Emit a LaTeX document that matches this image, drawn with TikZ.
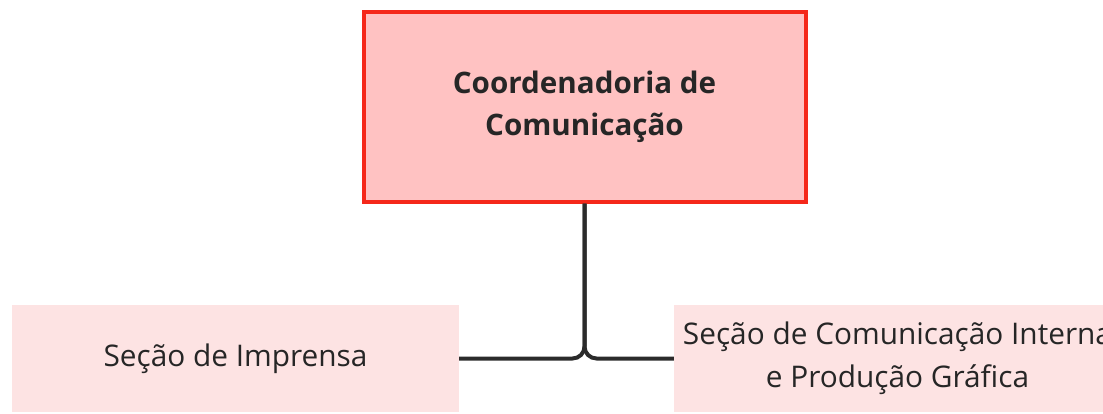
\documentclass[tikz,border=0pt]{standalone}
\usepackage{fontspec}
\setmainfont{Open Sans}
\usetikzlibrary{positioning}

\definecolor{headfill}{HTML}{FFC2C2}
\definecolor{headline}{HTML}{F5281A}
\definecolor{secfill}{HTML}{FDE3E3}
\definecolor{linkgray}{HTML}{2B2B2B}

\tikzset{
  headbox/.style={draw=headline, line width=4pt, fill=headfill, inner sep=0pt,
    minimum width=442pt, minimum height=190pt, align=center,
    font=\fontsize{29.6}{42}\selectfont\bfseries, text=black!85},
  secbox/.style={fill=secfill, inner sep=0pt, minimum width=447pt,
    minimum height=107pt, align=center,
    font=\fontsize{29.8}{42.5}\selectfont, text=black!85},
  link/.style={draw=linkgray, line width=4pt, rounded corners=12pt}
}

\begin{document}
\begin{tikzpicture}[x=1pt,y=-1pt]
        \useasboundingbox (0,0) rectangle (1103,413);

        % the head box
        \node[headbox] (coord) at (584.5,106.5) {Coordenadoria de\\Comunicação};

        % the two sections
        \node[secbox] (imprensa) at (235.5,358.5) {Seção de Imprensa};
        \node[secbox] (interna) at (897.5,358.5) {Seção de Comunicação Interna\\e Produção Gráfica};

        % connectors
        \draw[link] (coord.south) |- (imprensa.east);
        \draw[link] (coord.south) |- (interna.west);
    \end{tikzpicture}
\end{document}
